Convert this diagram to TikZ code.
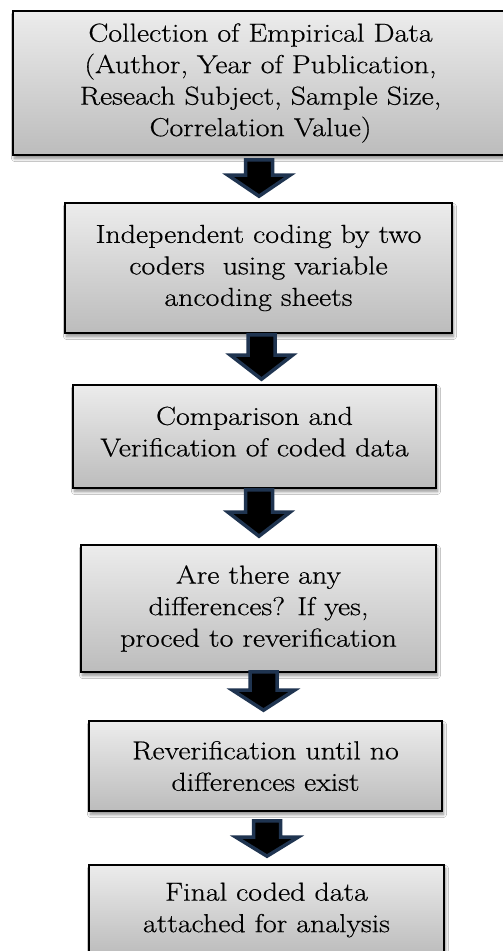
\documentclass[tikz,border=0pt]{standalone}
\usepackage{fontspec}
\setmainfont{Latin Modern Roman}[FakeStretch=1.15,FakeBold=0.5]
\usetikzlibrary{shadows.blur,calc}
\definecolor{boxtop}{RGB}{236,236,236}
\definecolor{boxbot}{RGB}{188,188,188}
\definecolor{arrowedge}{RGB}{31,52,80}
\tikzset{
  flowbox/.style={draw=black, line width=1.6bp, rectangle, inner sep=0pt,
    top color=boxtop, bottom color=boxbot, align=center,
    font=\fontsize{26bp}{31.5bp}\selectfont,
    blur shadow={shadow xshift=1.5bp, shadow yshift=-3.5bp, shadow blur steps=8,
      shadow blur radius=3bp, shadow opacity=45}},
  blockarrow/.style={fill=black, draw=arrowedge, line width=3.5bp, line join=miter}
}
\newcommand\blockarr[3]{%
  \path[blockarrow] let \p1=(#1), \p2=(#2) in
    (\x1-13.5bp,\y1) -- (\x1+13.5bp,\y1) -- (\x1+13.5bp,\y2+#3) -- (\x1+31bp,\y2+#3)
    -- (\x1,\y2) -- (\x1-31bp,\y2+#3) -- (\x1-13.5bp,\y2+#3) -- cycle;
}
\begin{document}
\begin{tikzpicture}[x=1bp,y=-1bp]
\useasboundingbox[fill=white] (0,0) rectangle (503,951);
\node[flowbox, minimum width=495bp, minimum height=144bp] (b1) at (260.5,83)
  {Collection of Empirical Data\\(Author, Year of Publication,\\Reseach Subject, Sample Size,\\Correlation Value)};
\node[flowbox, minimum width=387bp, minimum height=130bp] (b2) at (258.5,268)
  {Independent coding by two\\coders\ \ using variable\\ancoding sheets};
\node[flowbox, minimum width=363bp, minimum height=103bp, text depth=10bp] (b3) at (254.5,436.5)
  {Comparison and\\Verification of coded data};
\node[flowbox, minimum width=355bp, minimum height=127bp] (b4) at (258.5,608.5)
  {Are there any\\differences? If yes,\\proced to reverification};
\node[flowbox, minimum width=353bp, minimum height=90bp] (b5) at (265.5,766)
  {Reverification until no\\differences exist};
\node[flowbox, minimum width=355bp, minimum height=90bp] (b6) at (266.5,910)
  {Final coded data\\attached for analysis};
\coordinate (a1s) at ($(b1.south)+(-1.5,4)$);
\coordinate (a1e) at ($(b2.north)+(0,-6)$);
\coordinate (a2s) at ($(b2.south)+(3,1)$);
\coordinate (a2e) at ($(b3.north)+(0,-5)$);
\coordinate (a3s) at ($(b3.south)+(4.5,1)$);
\coordinate (a3e) at ($(b4.north)+(0,-8)$);
\coordinate (a4s) at ($(b4.south)+(5,-1)$);
\coordinate (a4e) at ($(b5.north)+(0,-10)$);
\coordinate (a5s) at ($(b5.south)+(1.5,9)$);
\coordinate (a5e) at ($(b6.north)+(0,-8)$);
\blockarr{a1s}{a1e}{21bp}
\blockarr{a2s}{a2e}{24bp}
\blockarr{a3s}{a3e}{24bp}
\blockarr{a4s}{a4e}{20bp}
\blockarr{a5s}{a5e}{19bp}
\end{tikzpicture}
\end{document}
